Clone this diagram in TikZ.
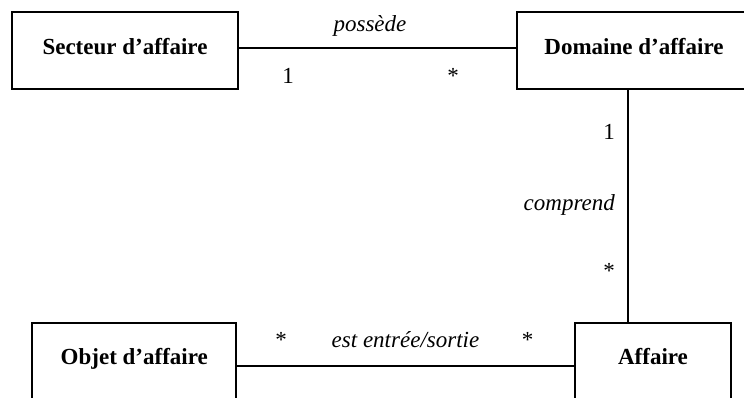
\documentclass[tikz,border=0pt]{standalone}
\usepackage{fontspec}
\setmainfont{Liberation Serif}
\begin{document}
\begin{tikzpicture}[x=1pt,y=-1pt,
  box/.style={draw,line width=2pt,rectangle,minimum height=77pt,inner sep=0pt,
    font=\fontsize{23}{27}\selectfont\bfseries,text height=10pt,text depth=3pt},
  lbl/.style={font=\fontsize{23}{27}\selectfont\itshape,anchor=base,inner sep=0pt},
  mult/.style={font=\fontsize{23}{27}\selectfont,anchor=base,inner sep=0pt},
  conn/.style={line width=2pt}]
\useasboundingbox (0,0) rectangle (744,397);
\clip (0,0) rectangle (744,397);
\node[box,minimum width=226pt] (s) at (125,50.7) {Secteur d’affaire};
\node[box,minimum width=234pt] (d) at (634,50.7) {Domaine d’affaire};
\node[box,minimum width=204pt] (o) at (134.3,361) {Objet d’affaire};
\node[box,minimum width=156pt] (a) at (653,361) {Affaire};
\coordinate (yA) at (0,47.7);
\coordinate (yB) at (0,365.7);
\coordinate (vx) at (628,0);
\draw[conn] (s.east |- yA) -- (d.west |- yA);
\draw[conn] (d.south -| vx) -- (a.north -| vx);
\draw[conn] (o.east |- yB) -- (a.west |- yB);
\node[lbl] (l1) at (370,31) {possède};
\node[mult] (m1) at (288,83.5) {1};
\node[mult] (m2) at (453,83.5) {*};
\node[mult,anchor=base east] (m3) at (615,139) {1};
\node[lbl,anchor=base east] (l2) at (615,210) {comprend};
\node[mult,anchor=base east] (m4) at (615,278) {*};
\node[mult] (m5) at (281,347.5) {*};
\node[lbl] (l3) at (405.5,347.5) {est entrée/sortie};
\node[mult] (m6) at (527.5,347.5) {*};
\end{tikzpicture}
\end{document}
